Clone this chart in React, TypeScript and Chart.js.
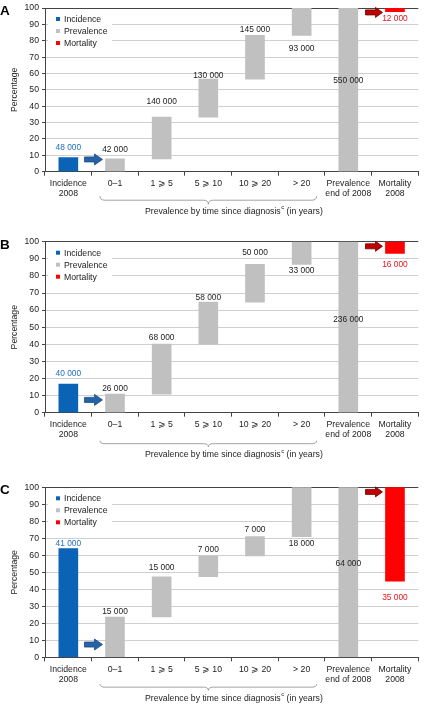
import React, { useEffect, useRef } from "react";
import { Chart, registerables } from "chart.js";
Chart.register(...registerables);

// ---------- data ----------
const categories: (string | string[])[] = [
  ["Incidence", "2008"],
  "0–1",
  "1 ⩾ 5",
  "5 ⩾ 10",
  "10 ⩾ 20",
  "> 20",
  ["Prevalence", "end of 2008"],
  ["Mortality", "2008"],
];
const legendItems = ["Incidence", "Prevalence", "Mortality"];
const yTicks = [0, 10, 20, 30, 40, 50, 60, 70, 80, 90, 100];

// Panel A
const incidenceA = [8.7];
const prevLowA = [0, 7.8, 33.3, 56.6, 83.3, 0];
const prevHighA = [7.8, 33.3, 56.6, 83.3, 100, 100];
const mortalityA = [97.8, 100];
const valueLabelsA = ["48 000", "42 000", "140 000", "130 000", "145 000", "93 000", "550 000", "12 000"];
const labelAtA = [14.4, 13.6, 43.0, 58.6, 86.6, 75.4, 55.4, 93.6];

// Panel B
const incidenceB = [16.8];
const prevLowB = [0, 10.9, 40.1, 64.7, 86.7, 0];
const prevHighB = [10.9, 40.1, 64.7, 86.7, 100, 100];
const mortalityB = [93.2, 100];
const valueLabelsB = ["40 000", "26 000", "68 000", "58 000", "50 000", "33 000", "236 000", "16 000"];
const labelAtB = [22.6, 13.9, 44.1, 67.3, 93.8, 82.9, 54.6, 86.5];

// Panel C
const incidenceC = [64.0];
const prevLowC = [0, 23.7, 47.4, 59.6, 71.0, 0];
const prevHighC = [23.7, 47.4, 59.6, 71.0, 100, 100];
const mortalityC = [44.8, 100];
const valueLabelsC = ["41 000", "15 000", "15 000", "7 000", "7 000", "18 000", "64 000", "35 000"];
const labelAtC = [67.1, 26.8, 52.7, 63.5, 74.9, 67.1, 54.9, 35.1];

// ---------- styles ----------
const FONT = "'Liberation Sans', Arial, Helvetica, sans-serif";
const BLUE = "#0b63b6";
const GRAY = "#c0c0c0";
const RED = "#ff0000";
const BLUE_TEXT = "#1f6fc4";
const RED_TEXT = "#e8141e";
const TEXT = "#222222";

type PanelDef = {
  letter: string;
  top: number;
  height: number;
  plotTop: number;
  plotBottom: number;
  braceOff: number[];
  incidence: number[];
  prevLow: number[];
  prevHigh: number[];
  mortality: number[];
  valueLabels: string[];
  labelAt: number[];
};

const panels: PanelDef[] = [
  { letter: "A", top: 0, height: 225, plotTop: 5, plotBottom: 171.7, braceOff: [24.5, 32.5, 39.5],
    incidence: incidenceA, prevLow: prevLowA, prevHigh: prevHighA, mortality: mortalityA, valueLabels: valueLabelsA, labelAt: labelAtA },
  { letter: "B", top: 225, height: 235, plotTop: 241.7, plotBottom: 412.7, braceOff: [28, 34, 42.3],
    incidence: incidenceB, prevLow: prevLowB, prevHigh: prevHighB, mortality: mortalityB, valueLabels: valueLabelsB, labelAt: labelAtB },
  { letter: "C", top: 460, height: 244, plotTop: 487.3, plotBottom: 657.3, braceOff: [26.7, 33, 41],
    incidence: incidenceC, prevLow: prevLowC, prevHigh: prevHighC, mortality: mortalityC, valueLabels: valueLabelsC, labelAt: labelAtC },
];

function drawArrow(ctx: CanvasRenderingContext2D, tipX: number, cy: number, len: number, bodyH: number, headH: number, headL: number, fill: string, stroke: string) {
  ctx.save();
  ctx.beginPath();
  ctx.moveTo(tipX - len, cy - bodyH / 2);
  ctx.lineTo(tipX - headL, cy - bodyH / 2);
  ctx.lineTo(tipX - headL, cy - headH / 2);
  ctx.lineTo(tipX, cy);
  ctx.lineTo(tipX - headL, cy + headH / 2);
  ctx.lineTo(tipX - headL, cy + bodyH / 2);
  ctx.lineTo(tipX - len, cy + bodyH / 2);
  ctx.closePath();
  ctx.fillStyle = fill;
  ctx.fill();
  ctx.strokeStyle = stroke;
  ctx.lineWidth = 0.8;
  ctx.stroke();
  ctx.restore();
}

function Panel({ p }: { p: PanelDef }) {
  const ref = useRef<HTMLCanvasElement | null>(null);
  useEffect(() => {
    const canvas = ref.current;
    if (!canvas) return;
    const n = categories.length;
    const incData: any[] = categories.map((_, i) => (i === 0 ? [0, p.incidence[0]] : null));
    const prevData: any[] = categories.map((_, i) => (i >= 1 && i <= 6 ? [p.prevLow[i - 1], p.prevHigh[i - 1]] : null));
    const mortData: any[] = categories.map((_, i) => (i === n - 1 ? [p.mortality[0], p.mortality[1]] : null));
    const font = { family: FONT, size: 8.7, lineHeight: 1.15 };
    const localTop = p.plotTop - p.top;
    const localBottom = p.plotBottom - p.top;

    const overlay = {
      id: "overlay",
      beforeDatasetsDraw(chart: any) {
        const ctx = chart.ctx as CanvasRenderingContext2D;
        const ca = chart.chartArea;
        ctx.save();
        ctx.fillStyle = "#ffffff";
        ctx.fillRect(ca.left + 3, ca.top + 3, 64, 38);
        ctx.restore();
      },
      afterDraw(chart: any) {
        const ctx = chart.ctx as CanvasRenderingContext2D;
        const xs = chart.scales.x;
        const ys = chart.scales.y;
        const ca = chart.chartArea;
        ctx.save();
        // legend
        const legColors = [BLUE, GRAY, RED];
        ctx.font = `8.7px ${FONT}`;
        ctx.textBaseline = "middle";
        ctx.textAlign = "left";
        legendItems.forEach((t, i) => {
          const cy = ca.top + 11 + i * 12;
          ctx.fillStyle = legColors[i];
          ctx.fillRect(ca.left + 11, cy - 2, 4, 4);
          ctx.fillStyle = TEXT;
          ctx.fillText(t, ca.left + 19, cy + 0.5);
        });
        // value labels
        ctx.textAlign = "center";
        ctx.font = `8.4px ${FONT}`;
        p.valueLabels.forEach((t, i) => {
          ctx.fillStyle = i === 0 ? BLUE_TEXT : i === n - 1 ? RED_TEXT : TEXT;
          ctx.fillText(t, xs.getPixelForValue(i), ys.getPixelForValue(p.labelAt[i]));
        });
        // arrows
        const blueTip = xs.getPixelForValue(1) - 9.5 - 3;
        drawArrow(ctx, blueTip, ys.getPixelForValue(7.5), 18, 5, 11, 8, "#2562a8", "#1a4a82");
        const redTip = xs.getPixelForValue(n - 1) - 9.5 - 3;
        drawArrow(ctx, redTip, ys.getPixelForValue(97.3), 17, 5, 10, 7, "#c00000", "#6a0000");
        // brace
        const axisY = ca.bottom;
        const L = xs.getPixelForValue(1) - 15;
        const R = xs.getPixelForValue(5) + 15;
        const M = (L + R) / 2;
        const t0 = axisY + p.braceOff[0];
        const t1 = axisY + (p.braceOff[0] + p.braceOff[1]) / 2;
        const t2 = axisY + p.braceOff[1];
        ctx.beginPath();
        ctx.moveTo(L, t0);
        ctx.quadraticCurveTo(L, t1, L + 5, t1);
        ctx.lineTo(M - 5, t1);
        ctx.quadraticCurveTo(M, t1, M, t2);
        ctx.quadraticCurveTo(M, t1, M + 5, t1);
        ctx.lineTo(R - 5, t1);
        ctx.quadraticCurveTo(R, t1, R, t0);
        ctx.strokeStyle = "#8a8a8a";
        ctx.lineWidth = 0.8;
        ctx.stroke();
        // brace caption
        const ty = axisY + p.braceOff[2];
        ctx.textAlign = "left";
        ctx.fillStyle = TEXT;
        ctx.font = `8.7px ${FONT}`;
        let x0 = L + 45;
        const part1 = "Prevalence by time since diagnosis";
        ctx.fillText(part1, x0, ty);
        x0 += ctx.measureText(part1).width + 0.5;
        ctx.font = `6px ${FONT}`;
        ctx.fillText("c", x0, ty - 4);
        x0 += ctx.measureText("c").width;
        ctx.font = `8.7px ${FONT}`;
        ctx.fillText(" (in years)", x0, ty);
        // panel letter
        ctx.font = `bold 13.5px ${FONT}`;
        ctx.textBaseline = "alphabetic";
        ctx.fillStyle = "#000";
        ctx.fillText(p.letter, 0, ca.top + 7);
        ctx.restore();
      },
    };

    const chart = new Chart(canvas, {
      type: "bar",
      data: {
        labels: categories as any,
        datasets: [
          { label: legendItems[0], data: incData, backgroundColor: BLUE, grouped: false, barThickness: 19 } as any,
          { label: legendItems[1], data: prevData, backgroundColor: GRAY, grouped: false, barThickness: 19 } as any,
          { label: legendItems[2], data: mortData, backgroundColor: RED, grouped: false, barThickness: 19 } as any,
        ],
      },
      options: {
        animation: false,
        responsive: false,
        devicePixelRatio: 1,
        layout: { padding: { top: localTop, right: 427 - 418.3, left: 0, bottom: 0 } },
        plugins: { legend: { display: false }, tooltip: { enabled: false } },
        scales: {
          x: {
            offset: true,
            grid: { offset: true, drawOnChartArea: false, drawTicks: true, tickLength: 4, color: "#444", tickColor: "#444" },
            border: { color: "#444", width: 1 },
            ticks: { font, color: TEXT, padding: 3, maxRotation: 0, minRotation: 0, autoSkip: false },
            afterFit: (s: any) => { s.height = p.height - localBottom; },
          },
          y: {
            min: 0,
            max: 100,
            afterBuildTicks: (s: any) => { s.ticks = yTicks.map((v) => ({ value: v })); },
            ticks: { font, color: TEXT, padding: 3 },
            grid: {
              color: (c: any) => (c.tick && c.tick.value === 100 ? "#444" : "#cfcfcf"),
              tickLength: 3,
              tickColor: "#444",
              lineWidth: 1,
            },
            border: { color: "#444", width: 1 },
            title: { display: true, text: "Percentage", font, color: TEXT, padding: { top: 9.5, bottom: 0 } },
            afterFit: (s: any) => { s.width = 45; },
          },
        },
      } as any,
      plugins: [overlay],
    });
    return () => chart.destroy();
  }, [p]);
  return (
    <canvas
      ref={ref}
      width={427}
      height={p.height}
      style={{ position: "absolute", left: 0, top: p.top, width: 427, height: p.height, display: "block" }}
    />
  );
}

export default function App() {
  return (
    <div style={{ position: "absolute", left: 0, top: 0, width: 427, height: 704, background: "#fff", overflow: "hidden" }}>
      {panels.map((p) => (
        <Panel key={p.letter} p={p} />
      ))}
    </div>
  );
}
